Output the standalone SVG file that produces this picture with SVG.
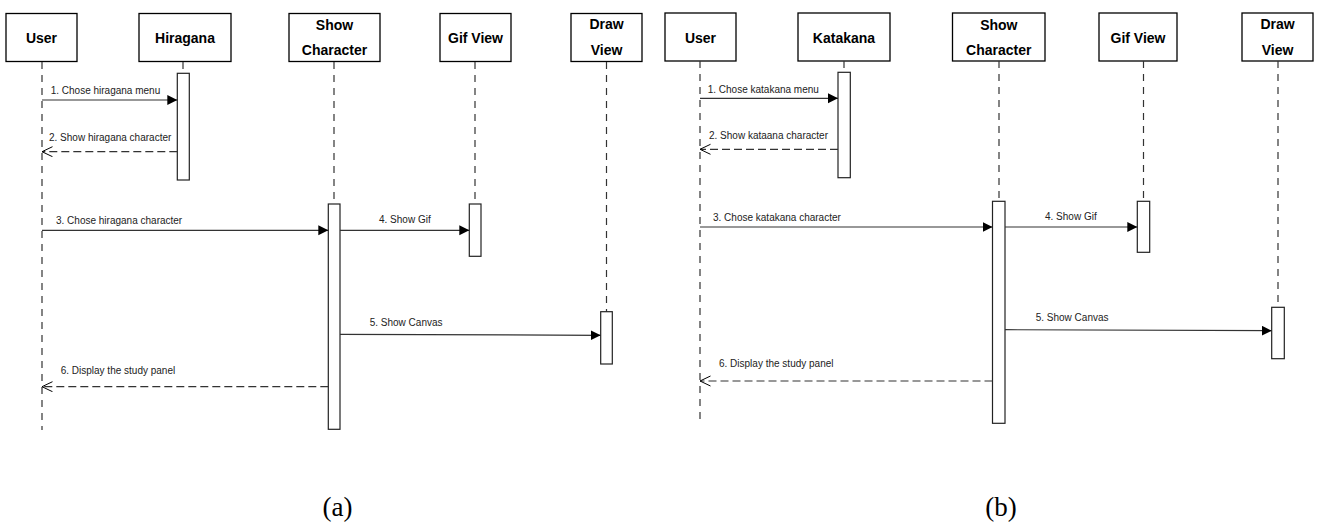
<svg xmlns="http://www.w3.org/2000/svg" width="1320" height="527" viewBox="0 0 1320 527">
<style>
.hdr{fill:#fff;stroke:#000;stroke-width:1.3}
.ht{font-family:"Liberation Sans",Arial,sans-serif;font-weight:bold;font-size:14px;fill:#000;text-anchor:middle}
.life{stroke:#333;stroke-width:1.2;stroke-dasharray:7 6;fill:none}
.act{fill:#fff;stroke:#222;stroke-width:1.2}
.msg{stroke:#333;stroke-width:1.2;fill:none;marker-end:url(#fill)}
.ret{stroke:#333;stroke-width:1.2;fill:none;stroke-dasharray:8 4;marker-end:url(#open)}
.lbl{font-family:"Liberation Sans",Arial,sans-serif;font-size:10px;fill:#222}
.cap{font-family:"Liberation Serif","Times New Roman",serif;font-size:27px;fill:#000;text-anchor:middle}
</style>
<defs>
<marker id="fill" markerUnits="userSpaceOnUse" markerWidth="12" markerHeight="12" refX="10" refY="5" orient="auto">
<path d="M0,0 L10,5 L0,10 z" fill="#000"/>
</marker>
<marker id="open" markerUnits="userSpaceOnUse" markerWidth="14" markerHeight="12" refX="11" refY="5.5" orient="auto">
<path d="M0.5,0.5 L11,5.5 L0.5,10.5" fill="none" stroke="#000" stroke-width="1"/>
</marker>
</defs>

<!-- Diagram (a) -->
<g id="a-user">
<rect class="hdr" x="6" y="13.5" width="71" height="48"/>
<text class="ht" x="41.5" y="43">User</text>
<line class="life" x1="42" y1="62" x2="42" y2="430"/>
</g>
<g id="a-hiragana">
<rect class="hdr" x="139" y="13.5" width="92" height="48"/>
<text class="ht" x="185" y="43">Hiragana</text>
<line class="life" x1="183" y1="62" x2="183" y2="73"/>
<rect class="act" x="177.3" y="73.3" width="12" height="106.7"/>
</g>
<g id="a-showchar">
<rect class="hdr" x="289" y="13.5" width="91" height="48"/>
<text class="ht" x="334.5" y="30">Show</text>
<text class="ht" x="334.5" y="55">Character</text>
<line class="life" x1="334" y1="62" x2="334" y2="204"/>
<rect class="act" x="328.3" y="204" width="11.7" height="225.3"/>
</g>
<g id="a-gifview">
<rect class="hdr" x="440" y="13.5" width="71" height="48"/>
<text class="ht" x="475.5" y="43">Gif View</text>
<line class="life" x1="475" y1="62" x2="475" y2="204"/>
<rect class="act" x="469.3" y="204" width="11.7" height="52.3"/>
</g>
<g id="a-drawview">
<rect class="hdr" x="571" y="13.5" width="71" height="48"/>
<text class="ht" x="606.5" y="29">Draw</text>
<text class="ht" x="606.5" y="55">View</text>
<line class="life" x1="606.5" y1="62" x2="606.5" y2="311.7"/>
<rect class="act" x="600.7" y="311.7" width="11.6" height="52.3"/>
</g>

<!-- Diagram (b) -->
<g id="b-user">
<rect class="hdr" x="665" y="13" width="71" height="48"/>
<text class="ht" x="700.5" y="43">User</text>
<line class="life" x1="700" y1="61" x2="700" y2="423"/>
</g>
<g id="b-katakana">
<rect class="hdr" x="798" y="13" width="92" height="48"/>
<text class="ht" x="844" y="43">Katakana</text>
<line class="life" x1="844" y1="61" x2="844" y2="72.3"/>
<rect class="act" x="838" y="72.3" width="12.3" height="105.4"/>
</g>
<g id="b-showchar">
<rect class="hdr" x="952.5" y="13" width="92.5" height="48"/>
<text class="ht" x="998.8" y="30">Show</text>
<text class="ht" x="998.8" y="55">Character</text>
<line class="life" x1="999" y1="61" x2="999" y2="201.3"/>
<rect class="act" x="992.5" y="201.3" width="12.5" height="222"/>
</g>
<g id="b-gifview">
<rect class="hdr" x="1099" y="13" width="78" height="48"/>
<text class="ht" x="1138" y="43">Gif View</text>
<line class="life" x1="1143.5" y1="61" x2="1143.5" y2="201.3"/>
<rect class="act" x="1137.3" y="201.3" width="12.4" height="51"/>
</g>
<g id="b-drawview">
<rect class="hdr" x="1242" y="13" width="71" height="48"/>
<text class="ht" x="1277.5" y="29">Draw</text>
<text class="ht" x="1277.5" y="55">View</text>
<line class="life" x1="1278" y1="61" x2="1278" y2="307.3"/>
<rect class="act" x="1271.7" y="307.3" width="12.6" height="51.4"/>
</g>

<g id="connectors">
<line class="msg" x1="42" y1="100" x2="177.3" y2="100"/>
<line class="ret" x1="177.3" y1="151.7" x2="42" y2="151.7"/>
<line class="msg" x1="42" y1="230.3" x2="328.3" y2="230.3"/>
<line class="msg" x1="340" y1="230.3" x2="469.3" y2="230.3"/>
<line class="msg" x1="340" y1="334.3" x2="600.7" y2="335.3"/>
<line class="ret" x1="328.3" y1="386.7" x2="42" y2="386.7"/>

<line class="msg" x1="700" y1="98.3" x2="838" y2="98.3"/>
<line class="ret" x1="838" y1="149.3" x2="700" y2="149.3"/>
<line class="msg" x1="700" y1="227" x2="992.5" y2="227"/>
<line class="msg" x1="1005" y1="227" x2="1137.3" y2="227"/>
<line class="msg" x1="1005" y1="329.7" x2="1271.7" y2="330.7"/>
<line class="ret" x1="992.5" y1="381" x2="700" y2="381"/>
</g>

<g id="labels">
<text class="lbl" x="50.7" y="93.5">1. Chose hiragana menu</text>
<text class="lbl" x="49" y="141">2. Show hiragana character</text>
<text class="lbl" x="56" y="224">3. Chose hiragana character</text>
<text class="lbl" x="379" y="223">4. Show Gif</text>
<text class="lbl" x="369.7" y="326">5. Show Canvas</text>
<text class="lbl" x="60.7" y="373.5">6. Display the study panel</text>

<text class="lbl" x="707.7" y="92.7">1. Chose katakana menu</text>
<text class="lbl" x="709" y="139.3">2. Show kataana character</text>
<text class="lbl" x="713" y="220.7">3. Chose katakana character</text>
<text class="lbl" x="1045" y="220">4. Show Gif</text>
<text class="lbl" x="1035.7" y="321.3">5. Show Canvas</text>
<text class="lbl" x="719" y="367.3">6. Display the study panel</text>
</g>

<text class="cap" x="337.5" y="516">(a)</text>
<text class="cap" x="1001" y="516">(b)</text>
</svg>
